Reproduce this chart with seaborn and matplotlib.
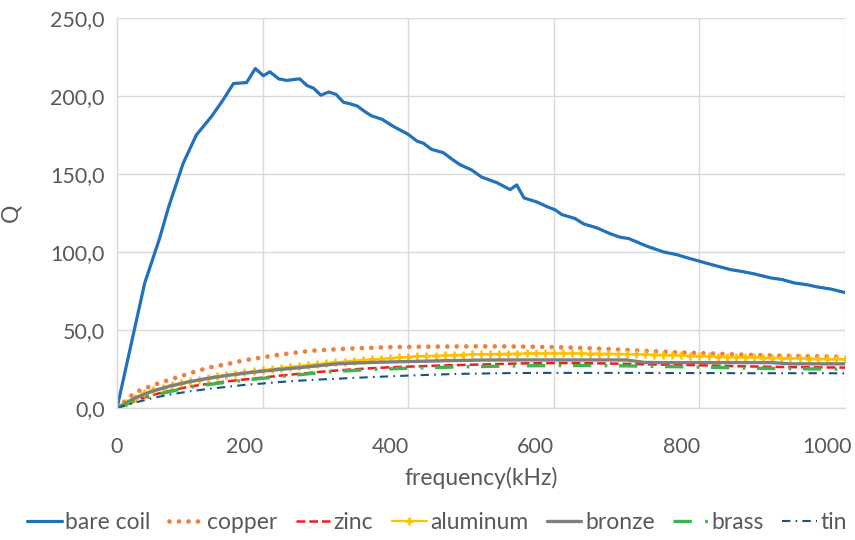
import matplotlib
matplotlib.use("Agg")
import matplotlib.pyplot as plt
import seaborn as sns
import pandas as pd

# ---------------- data ----------------
f_bare = [0, 38, 58, 71, 91, 109, 130, 145, 160, 178, 190, 201, 210, 222, 233, 251,
          261, 270, 280, 291, 301, 311, 320, 330, 341, 350, 364, 380, 389, 400, 412,
          421, 432, 448, 462, 471, 487, 501, 522, 540, 549, 559, 577, 591, 602, 611,
          629, 641, 659, 678, 691, 703, 728, 751, 769, 781, 800, 820, 843, 861, 875,
          898, 914, 930, 948, 962, 980, 1000]
q_bare = [0, 80, 108, 129, 157, 175, 187, 197, 208, 208.6, 217.6, 213, 215.5, 211, 210,
          211, 206.7, 205, 200.5, 202.6, 201, 196, 195, 193.6, 189.8, 187.2, 185.1,
          180.4, 178.2, 175.4, 171.1, 169.7, 165.8, 163.7, 158.9, 156, 152.6, 148,
          144.4, 140, 143, 134.7, 132, 129, 127, 124, 121.5, 118, 115.5, 111.6, 109.5,
          108.6, 103.7, 100, 98.3, 96.6, 94.1, 91.5, 88.7, 87.3, 86, 83.4, 82.3, 80.2,
          79, 77.6, 76.3, 74]

f_metal = [0, 25, 50, 75, 100, 125, 150, 175, 200, 225, 250, 275, 300, 325, 350, 375,
           400, 425, 450, 475, 500, 525, 550, 575, 600, 625, 650, 675, 700, 725, 750,
           775, 800, 825, 850, 875, 900, 925, 950, 975, 1000]
q_copper = [0, 10, 14.8, 18.5, 22.3, 25.8, 28, 30.6, 32.5, 34.3, 35.8, 37, 37.6, 38.2,
            38.6, 39, 39.2, 39.3, 39.4, 39.5, 39.5, 39.5, 39.4, 39.2, 39, 38.7, 38.3,
            37.8, 37.2, 36.6, 36.1, 35.6, 35.2, 34.8, 34.3, 34, 33.7, 33.4, 33.2, 33,
            32.8]
q_zinc = [0, 5, 8.5, 11.3, 13.8, 15.5, 17, 18.3, 19.5, 20.8, 21.9, 23, 24, 24.8, 25.5,
          26.1, 26.5, 26.9, 27.3, 27.6, 27.9, 28.2, 28.5, 28.7, 28.8, 28.8, 28.7, 28.5,
          28.3, 28, 27.8, 27.6, 27.4, 27.1, 26.8, 26.6, 26.4, 26.2, 26.1, 26, 25.9]
q_bronze = [0, 6.5, 11, 14.3, 16.9, 19, 20.8, 22.3, 23.6, 24.8, 25.8, 27, 28.2, 28.8,
            29.2, 29.5, 29.8, 30, 30.3, 30.5, 30.7, 30.8, 30.8, 30.8, 30.8, 30.8, 30.8,
            30.8, 30.8, 29.2, 29.1, 29.1, 29.1, 29.1, 29.1, 29.1, 29.1, 28.3, 28.3,
            28.3, 28.3]
q_brass = [0, 4.5, 8, 10.8, 13.3, 15, 16.5, 17.8, 19, 20.2, 21.3, 22.5, 23.4, 24.1, 24.7,
           25.1, 25.5, 25.8, 26.1, 26.4, 26.6, 26.8, 27, 27.1, 27.2, 27.2, 27.2, 27.1,
           27, 26.8, 26.6, 26.4, 26.2, 26, 25.7, 25.5, 25.3, 25.2, 25.1, 25, 24.9]
q_tin = [0, 3.5, 6.5, 8.8, 10.7, 12.2, 13.5, 14.8, 15.7, 16.7, 17.5, 18.2, 18.7, 19.3,
         19.8, 20.3, 20.8, 21.2, 21.6, 21.9, 22.1, 22.3, 22.4, 22.5, 22.5, 22.5, 22.5,
         22.5, 22.5, 22.5, 22.4, 22.4, 22.4, 22.4, 22.3, 22.3, 22.3, 22.3, 22.3, 22.3,
         22.2]

f_alu = [0, 12.5, 25, 37.5, 50, 62.5, 75, 87.5, 100, 112.5, 125, 137.5, 150, 162.5, 175,
         187.5, 200, 212.5, 225, 237.5, 250, 262.5, 275, 287.5, 300, 312.5, 325, 337.5,
         350, 362.5, 375, 387.5, 400, 412.5, 425, 437.5, 450, 462.5, 475, 487.5, 500,
         512.5, 525, 537.5, 550, 562.5, 575, 587.5, 600, 612.5, 625, 637.5, 650, 662.5,
         675, 687.5, 700, 712.5, 725, 737.5, 750, 762.5, 775, 787.5, 800, 812.5, 825,
         837.5, 850, 862.5, 875, 887.5, 900, 912.5, 925, 937.5, 950, 962.5, 975, 987.5,
         1000]
q_alu = [0, 3.5, 6.5, 9.5, 11.5, 13, 14.5, 15.8, 17, 18.2, 19.3, 20.3, 21.2, 22, 22.8,
         23.6, 24.3, 25, 25.7, 26.3, 27, 27.6, 28.2, 28.8, 29.3, 29.8, 30.3, 30.8, 31.2,
         31.6, 32, 32.4, 32.8, 33.1, 33.4, 33.6, 33.8, 34, 34.2, 34.4, 34.5, 34.6, 34.7,
         34.8, 34.9, 35, 35, 35, 35, 35, 35, 35, 34.9, 34.9, 34.8, 34.7, 34.6, 34.5,
         34.3, 34.2, 34, 33.9, 33.7, 33.5, 33.4, 33.2, 33, 32.9, 32.7, 32.5, 32.4, 32.3,
         32.2, 32, 31.9, 31.8, 31.7, 31.6, 31.5, 31.4, 31.3]

x_tick_labels = ["0", "200", "400", "600", "800", "1000"]
x_tick_label_pos = [0, 175, 375, 575, 775, 975]
x_grid = [0, 200, 400, 600, 800, 1000]
y_ticks = [0, 50, 100, 150, 200, 250]

# ---------------- style ----------------
sns.set_theme(style="white")
plt.rcParams["font.family"] = ["Lato", "DejaVu Sans"]
TXT = "#595959"
GRID = "#D9D9D9"

fig = plt.figure(figsize=(8.55, 5.4), dpi=100)
ax = fig.add_axes([117 / 855, 1 - 408 / 540, 728 / 855, 390 / 540])

series = [
    ("bare coil", f_bare, q_bare, dict(color="#2271BD", lw=2.3, linestyle="-")),
    ("copper", f_metal, q_copper, dict(color="#F08040", lw=3.4, linestyle=(0, (0.01, 2.0)),
                                       dash_capstyle="round")),
    ("zinc", f_metal, q_zinc, dict(color="#EE1C25", lw=1.8, linestyle=(0, (3.5, 1.6)))),
    ("aluminum", f_alu, q_alu, dict(color="#FFC000", lw=1.6, linestyle="-", marker="+",
                                    markersize=6, markeredgewidth=1.8,
                                    markeredgecolor="#FFC000")),
    ("bronze", f_metal, q_bronze, dict(color="#7F7F7F", lw=2.4, linestyle="-")),
    ("brass", f_metal, q_brass, dict(color="#3DB54A", lw=2.4,
                                     linestyle=(0, (5.5, 4.0, 0.8, 3.5)))),
    ("tin", f_metal, q_tin, dict(color="#1B5184", lw=1.5,
                                 linestyle=(0, (4.0, 2.5, 0.8, 2.5)))),
]

for name, fx, qy, kw in series:
    df = pd.DataFrame({"f": fx, "Q": qy})
    sns.lineplot(data=df, x="f", y="Q", ax=ax, label=name, sort=False,
                 estimator=None, legend=True, **kw)

ax.set_xlim(0, 1000)
ax.set_ylim(0, 250)

ax.set_yticks(y_ticks)
ax.set_yticklabels([f"{v:.1f}".replace(".", ",") for v in y_ticks])
ax.set_xticks(x_tick_label_pos)
ax.set_xticklabels(x_tick_labels)
ax.set_xticks(x_grid, minor=True)

ax.grid(False)
ax.grid(True, which="minor", axis="x", color=GRID, lw=1.0)
ax.grid(True, which="major", axis="y", color=GRID, lw=1.0)
ax.set_axisbelow(True)

ax.tick_params(axis="both", which="both", length=0, labelsize=15.5, colors=TXT)
ax.tick_params(axis="y", pad=9)
ax.tick_params(axis="x", pad=21)

for s in ["top", "right"]:
    ax.spines[s].set_visible(False)
for s in ["left", "bottom"]:
    ax.spines[s].set_color(GRID)
    ax.spines[s].set_linewidth(1.0)

ax.set_xlabel("frequency(kHz)", fontsize=16.5, color=TXT)
ax.set_ylabel("Q", fontsize=16.5, color=TXT)
ax.xaxis.set_label_coords(0.5, -0.15)
ax.yaxis.set_label_coords(-0.132, 0.5)

handles, labels = ax.get_legend_handles_labels()
ax.get_legend().remove()
leg = fig.legend(handles, labels, loc="center", bbox_to_anchor=(0.511, 0.032), ncol=7,
                 frameon=False, fontsize=16.5, handlelength=1.5, handletextpad=0.15,
                 columnspacing=0.82, borderaxespad=0)
for t in leg.get_texts():
    t.set_color(TXT)

fig.savefig("out.png", dpi=100, facecolor="white")
